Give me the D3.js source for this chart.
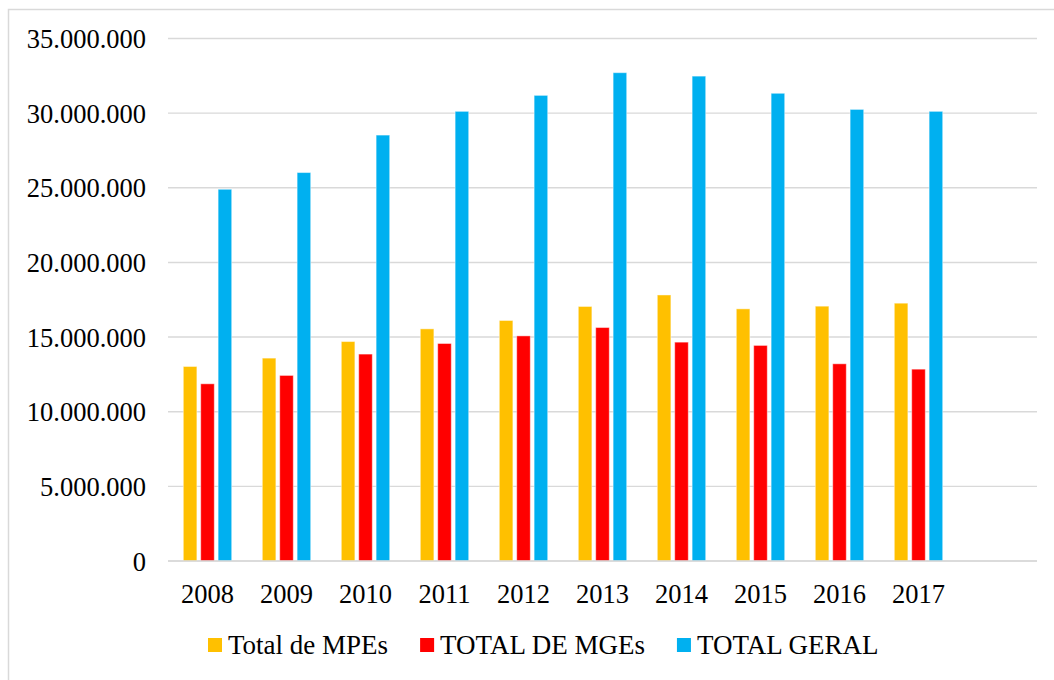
<!DOCTYPE html>
<html>
<head>
<meta charset="utf-8">
<script src="https://cdn.jsdelivr.net/npm/d3@7"></script>
<style>
  html, body { margin: 0; padding: 0; background: #fff; }
  svg { display: block; }
</style>
</head>
<body>
<svg id="chart" width="1054" height="680"></svg>
<script>
// Empresas por porte, 2008–2017
const years = ["2008", "2009", "2010", "2011", "2012", "2013", "2014", "2015", "2016", "2017"];
const seriesNames = ["Total de MPEs", "TOTAL DE MGEs", "TOTAL GERAL"];
const totalMPEs  = [13030000, 13590000, 14700000, 15550000, 16110000, 17050000, 17820000, 16890000, 17070000, 17270000];
const totalMGEs  = [11870000, 12430000, 13860000, 14570000, 15080000, 15640000, 14660000, 14440000, 13210000, 12850000];
const totalGeral = [24900000, 26020000, 28530000, 30120000, 31190000, 32710000, 32480000, 31330000, 30250000, 30120000];
const yTicks = [0, 5000000, 10000000, 15000000, 20000000, 25000000, 30000000, 35000000];
const seriesColors = ["#FFC000", "#FF0000", "#00B0F0"];

const seriesValues = [totalMPEs, totalMGEs, totalGeral];
const FONT = "'Liberation Serif', 'Times New Roman', serif";

const svg = d3.select("#chart");
const plot = { left: 168, right: 1037, top: 38.5, bottom: 561 };

// outer chart frame
svg.append("rect")
  .attr("x", 8.5).attr("y", 9.5)
  .attr("width", 1080).attr("height", 700)
  .attr("fill", "none").attr("stroke", "#d9d9d9").attr("stroke-width", 1.5);

// category axis keeps one trailing empty slot after the last year
const x0 = d3.scaleBand()
  .domain(years.concat([""]))
  .range([plot.left, plot.right])
  .paddingInner(0).paddingOuter(0);

const groupHalf = 24.2;
const x1 = d3.scaleBand()
  .domain(seriesNames)
  .range([-groupHalf, groupHalf])
  .paddingInner(0.22).paddingOuter(0);

const y = d3.scaleLinear().domain([0, 35000000]).range([plot.bottom, plot.top]);

const ptBR = d3.formatLocale({ decimal: ",", thousands: ".", grouping: [3], currency: ["R$", ""] });
const fmt = ptBR.format(",d");

// gridlines
svg.append("g")
  .selectAll("line")
  .data(yTicks)
  .join("line")
  .attr("x1", plot.left).attr("x2", plot.right)
  .attr("y1", d => y(d)).attr("y2", d => y(d))
  .attr("stroke", "#d9d9d9").attr("stroke-width", 1.4);

// value axis labels
const yAxis = d3.axisLeft(y).tickValues(yTicks).tickFormat(fmt).tickSize(0).tickPadding(0);
const yg = svg.append("g").attr("transform", `translate(146,0)`).call(yAxis);
yg.attr("font-family", null).attr("font-size", null);
yg.select(".domain").remove();
yg.selectAll("text")
  .style("font-family", FONT)
  .style("font-size", "26.5px").attr("fill", "#000").attr("dy", "0.34em");

// bars
const groups = svg.append("g")
  .selectAll("g")
  .data(years)
  .join("g")
  .attr("transform", d => `translate(${x0(d) + x0.bandwidth() / 2},0)`);

groups.selectAll("rect")
  .data((d, i) => seriesNames.map((s, k) => ({ s, k, v: seriesValues[k][i] })))
  .join("rect")
  .attr("x", d => x1(d.s))
  .attr("width", x1.bandwidth())
  .attr("y", d => y(d.v))
  .attr("height", d => y(0) - y(d.v))
  .attr("fill", d => seriesColors[d.k])
  .attr("stroke", "#ffffff").attr("stroke-opacity", 0.45).attr("stroke-width", 1);

// category axis labels
const xAxis = d3.axisBottom(x0).tickValues(years).tickSize(0).tickPadding(0);
const xg = svg.append("g").attr("transform", `translate(0,${plot.bottom})`).call(xAxis);
xg.attr("font-family", null).attr("font-size", null);
xg.select(".domain").remove();
xg.selectAll("text")
  .style("font-family", FONT)
  .style("font-size", "26.5px").attr("fill", "#000")
  .attr("y", 42).attr("dy", 0);

// baseline
svg.append("line")
  .attr("x1", plot.left).attr("x2", plot.right)
  .attr("y1", y(0)).attr("y2", y(0))
  .attr("stroke", "#d9d9d9").attr("stroke-width", 1.4);

// legend
const legend = svg.append("g");
let lx = 208;
seriesNames.forEach((name, k) => {
  legend.append("rect")
    .attr("x", lx).attr("y", 638).attr("width", 14).attr("height", 14)
    .attr("fill", seriesColors[k]);
  const t = legend.append("text")
    .attr("x", lx + 20).attr("y", 654)
    .style("font-family", FONT)
    .style("font-size", "27px")
    .attr("fill", "#000")
    .text(name);
  lx += 20 + t.node().getComputedTextLength() + 32;
});
</script>
</body>
</html>
